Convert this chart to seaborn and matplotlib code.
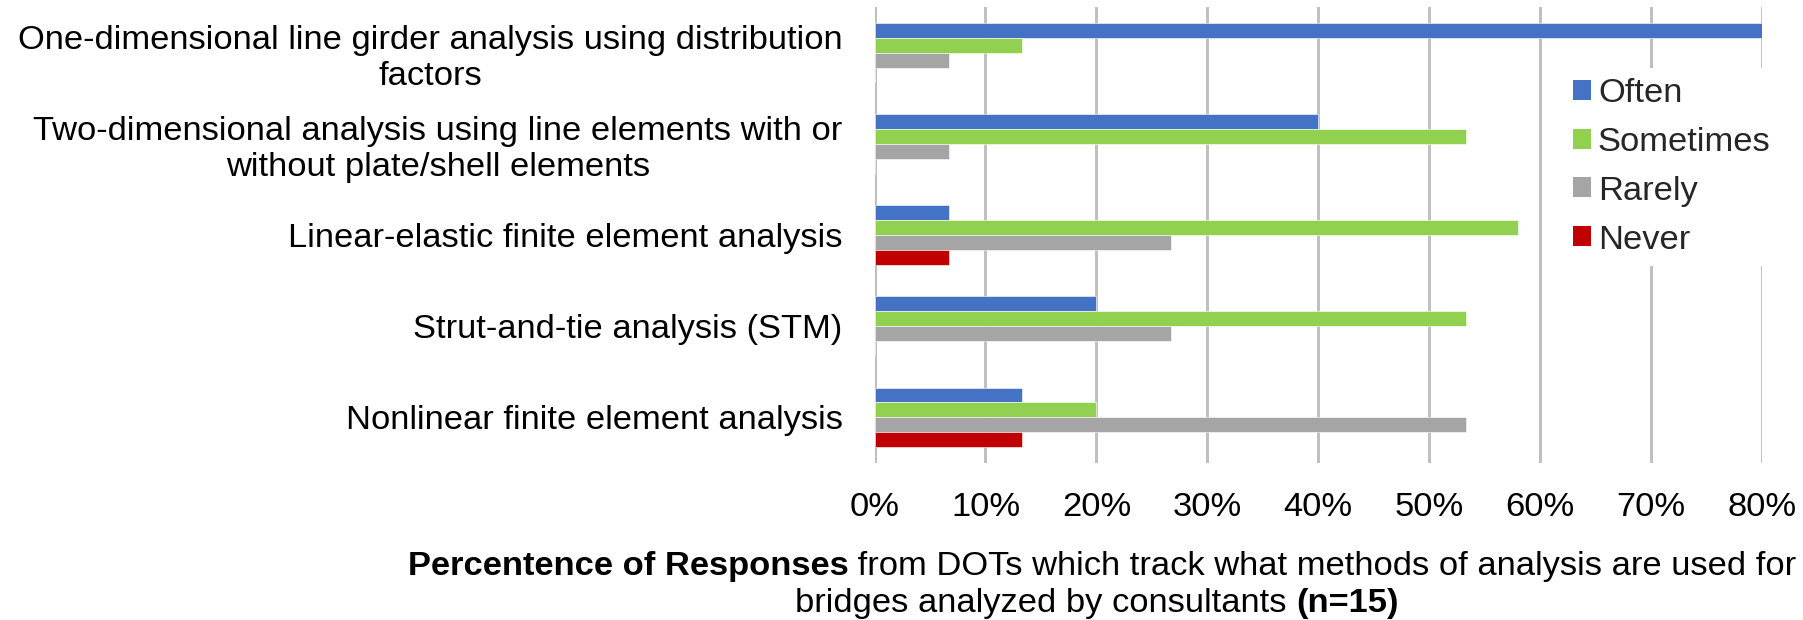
import matplotlib
matplotlib.use("Agg")
import matplotlib.pyplot as plt
import seaborn as sns
import pandas as pd
from matplotlib.patches import Patch

categories = [
    "One-dimensional line girder analysis using distribution\nfactors",
    "Two-dimensional analysis using line elements with or\nwithout plate/shell elements",
    "Linear-elastic finite element analysis",
    "Strut-and-tie analysis (STM)",
    "Nonlinear finite element analysis",
]
series = ["Often", "Sometimes", "Rarely", "Never"]
often = [80.0, 40.0, 6.7, 20.0, 13.3]
sometimes = [13.3, 53.3, 58.0, 53.3, 20.0]
rarely = [6.7, 6.7, 26.7, 26.7, 53.3]
never = [0.0, 0.0, 6.7, 0.0, 13.3]
xticks = [0, 10, 20, 30, 40, 50, 60, 70, 80]
colors = ["#4472C4", "#92D050", "#A5A5A5", "#C00000"]

rows = []
for name, vals in zip(series, [often, sometimes, rarely, never]):
    for c, v in zip(categories, vals):
        rows.append({"Method": c, "Frequency": name, "Percent": v})
df = pd.DataFrame(rows)

sns.set_theme(style="white")
plt.rcParams["font.family"] = ["Liberation Sans", "DejaVu Sans"]
FS = 24.8

W, H = 1803, 620
fig = plt.figure(figsize=(W / 100, H / 100), dpi=100)
ax_l, ax_r, ax_t, ax_b = 874.5, 1762.0, 7.0, 463.0
ax = fig.add_axes([ax_l / W, 1 - ax_b / H, (ax_r - ax_l) / W, (ax_b - ax_t) / H])

sns.barplot(data=df, y="Method", x="Percent", hue="Frequency",
            order=categories, hue_order=series, palette=colors,
            orient="h", width=0.655, gap=0, ax=ax, legend=False,
            saturation=1, edgecolor="white", linewidth=0.4, errorbar=None)

ax.set_xlim(0, 80)
ax.set_xticks(xticks)
ax.set_xticklabels([f"{t}%" for t in xticks])
ax.set_ylim(4.5, -0.5)
ax.grid(axis="x", color="#BFBFBF", linewidth=2.1)
ax.grid(axis="y", visible=False)
ax.set_axisbelow(True)
for s in ax.spines.values():
    s.set_visible(False)
ax.tick_params(axis="x", length=0, pad=21, labelsize=FS, labelcolor="black")
ax.tick_params(axis="y", length=0, pad=23, labelsize=FS, labelcolor="black")
for lab in ax.get_yticklabels():
    lab.set_multialignment("center")
ax.set_xlabel("")
ax.set_ylabel("")

handles = [Patch(facecolor=c, edgecolor="none") for c in colors]
leg = fig.legend(handles, series, loc="upper left",
                 bbox_to_anchor=(1563 / W, 1 - 67.5 / H), frameon=True,
                 fontsize=FS, handlelength=0.515, handleheight=0.515,
                 handletextpad=0.2, labelspacing=0.52, borderpad=0.3,
                 borderaxespad=0)
leg.get_frame().set_facecolor("white")
leg.get_frame().set_edgecolor("none")
leg.get_frame().set_alpha(1)
leg.set_zorder(5)

# Mixed-weight axis title, two centred lines
fig.canvas.draw()
r = fig.canvas.get_renderer()


def mixed_line(parts, xcenter_px, baseline_px):
    texts = []
    widths = []
    for s, w in parts:
        t = fig.text(0, 0, s, fontsize=FS, fontweight=w, color="black",
                     va="baseline", ha="left")
        texts.append(t)
        widths.append(t.get_window_extent(renderer=r).width)
    total = sum(widths)
    x = xcenter_px - total / 2
    for t, w in zip(texts, widths):
        t.set_position((x / W, 1 - baseline_px / H))
        x += w


mixed_line([("Percentence of Responses", "bold"),
            (" from DOTs which track what methods of analysis are used for", "normal")],
           1102, 575)
mixed_line([("bridges analyzed by consultants ", "normal"), ("(n=15)", "bold")],
           1097, 612)

fig.savefig("out.png", dpi=100, facecolor="white")
